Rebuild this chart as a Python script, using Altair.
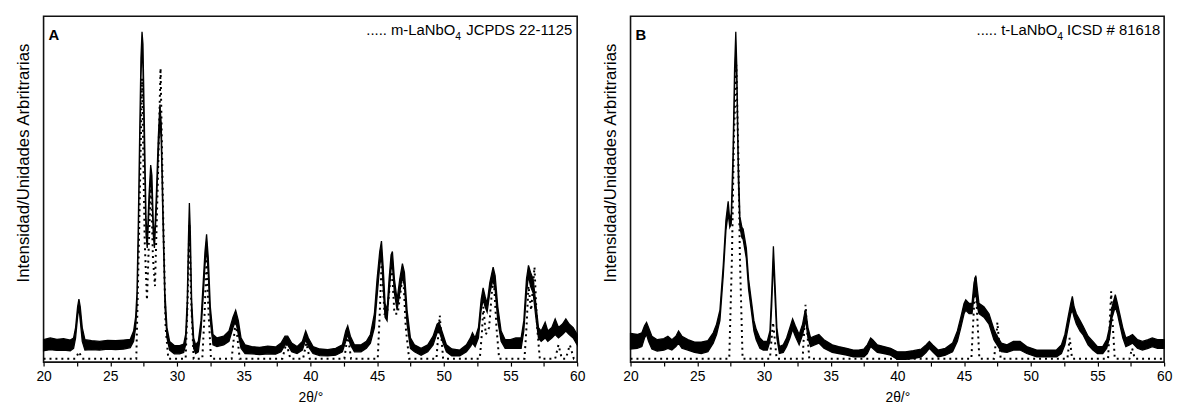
import altair as alt
import pandas as pd

FONT = "Liberation Sans"

# ---------------- Panel A (m-LaNbO4) ----------------
# experimental trace: 2theta, upper and lower edge of the noisy band (% of full scale)
A_T = [20.0, 20.5, 21.0, 21.5, 22.0, 22.25, 22.4, 22.55, 22.65, 22.75, 22.9, 23.1, 23.6, 24.2, 24.8,
       25.4, 26.0, 26.5, 26.75, 26.9, 27.0, 27.1, 27.2, 27.3, 27.38, 27.45, 27.55, 27.68, 27.77, 27.9,
       28.03, 28.12, 28.22, 28.31, 28.45, 28.6, 28.72, 28.82, 28.95, 29.1, 29.25, 29.45, 29.8, 30.2, 30.5,
       30.65, 30.77, 30.86, 30.93, 31.0, 31.1, 31.25, 31.4, 31.6, 31.8, 31.95, 32.1, 32.22, 32.35, 32.5,
       32.7, 33.0, 33.5, 33.9, 34.2, 34.4, 34.6, 34.8, 35.1, 35.6, 36.2, 36.8, 37.4, 37.8, 38.1,
       38.3, 38.6, 39.0, 39.4, 39.65, 39.85, 40.2, 40.7, 41.3, 41.9, 42.4, 42.65, 42.8, 43.0, 43.3,
       43.8, 44.2, 44.5, 44.8, 45.0, 45.2, 45.33, 45.45, 45.6, 45.75, 45.9, 46.05, 46.15, 46.3, 46.5,
       46.7, 46.9, 47.05, 47.25, 47.5, 47.8, 48.3, 48.8, 49.2, 49.5, 49.65, 49.9, 50.2, 50.6, 51.2,
       51.7, 52.0, 52.15, 52.35, 52.6, 52.8, 52.95, 53.1, 53.25, 53.45, 53.7, 53.85, 54.05, 54.3, 54.6,
       55.0, 55.4, 55.8, 56.0, 56.2, 56.35, 56.5, 56.7, 56.9, 57.1, 57.3, 57.6, 57.8, 58.1, 58.35,
       58.6, 58.9, 59.15, 59.4, 59.7, 60.0]
A_HI = [6.5, 7.0, 6.6, 6.8, 6.4, 7.0, 10, 16, 18.2, 16, 10, 6.5, 6.2, 6.0, 6.3,
        6.2, 6.4, 6.6, 9, 13, 20, 40, 65, 88, 95.5, 92, 70, 42, 35, 48,
        57, 54, 41, 35, 48, 65, 74.5, 69, 45, 20, 10, 6, 4.8, 4.8, 5.2,
        8, 18, 36, 46, 38, 18, 7, 5, 6, 12, 22, 32, 37, 30, 16,
        8, 7, 7.5, 9, 13, 15, 12, 7, 5, 4.5, 4.3, 4.6, 4.4, 5.5, 7.5,
        7.5, 5.5, 4.5, 6, 9, 7, 4.5, 3.8, 3.6, 4.0, 5, 9, 10.5, 7.5, 5,
        5, 6, 8, 14, 24, 32, 35, 28, 17, 15, 24, 31, 32, 24, 18,
        24, 28.5, 26, 15, 7, 5, 4, 5, 7.5, 11, 11.5, 8.5, 5, 3.8, 3.5,
        5, 7, 8.5, 7, 10, 18, 21.5, 19, 17, 23, 27.5, 25, 16, 9, 6.5,
        6.5, 7, 7, 12, 24, 28, 26, 24, 17, 10, 9, 11.5, 9, 10, 12.5,
        10, 11, 12.5, 11, 10, 8]
A_LO = [3.3, 3.6, 3.4, 3.5, 3.3, 4.0, 7, 13, 16, 12, 6, 3.5, 3.6, 3.5, 3.8,
        3.6, 3.8, 4.2, 6, 10, 16, 35, 60, 82, 92, 85, 62, 37, 33, 44,
        54, 49, 37, 33, 44, 60, 70, 64, 40, 16, 7, 3.5, 2.4, 2.4, 2.8,
        5, 14, 31, 42, 33, 14, 4, 2.5, 3, 9, 18, 28, 33, 25, 12,
        5, 4.5, 5, 6, 10, 12, 8, 4, 2.5, 2.4, 2.2, 2.4, 2.3, 3, 5,
        5, 3, 2.5, 3.5, 6.5, 4.5, 2.5, 1.9, 1.8, 2.0, 3, 6, 8, 5, 3,
        3, 4, 5.5, 10, 19, 28, 31, 22, 13, 12, 20, 27, 28, 20, 15,
        20, 25, 22, 11, 4, 3, 2, 3, 5, 8.5, 9, 6, 3, 1.8, 1.8,
        3, 4.5, 5.5, 4.5, 7, 15, 18, 16, 14.5, 20, 24, 21, 12, 6, 4,
        4, 4, 4, 9, 20, 25, 22, 20, 13, 7, 6, 7, 6, 7, 8,
        7, 8, 9, 8, 7, 5]
# reference pattern JCPDS 22-1125 (dotted)
A_REF_T = [20.0, 22.4, 22.65, 22.9, 26.95, 27.15, 27.38, 27.58, 27.75, 27.9, 28.05, 28.2, 28.35, 28.55,
           28.77, 28.95, 29.15, 29.35, 30.65, 30.8, 30.93, 31.06, 31.25, 31.9, 32.07, 32.22, 32.37, 32.55,
           34.1, 34.4, 34.7, 37.9, 38.2, 38.5, 39.45, 39.7, 39.95, 42.55, 42.8, 43.05, 45.05, 45.2, 45.35,
           45.55, 45.75, 45.95, 46.1, 46.3, 46.55, 46.75, 46.95, 47.15, 47.4, 49.45, 49.7, 49.95, 52.7,
           52.85, 52.97, 53.15, 53.4, 53.6, 53.75, 53.95, 54.15, 56.05, 56.2, 56.35, 56.55, 56.8, 57.0,
           57.2, 58.35, 58.6, 58.85, 59.15, 59.45, 59.75, 60.0]
A_REF_I = [1, 1, 3, 1, 1, 35, 82, 35, 18, 35, 52, 30, 22, 50,
           85, 45, 10, 1, 1, 18, 40, 18, 1, 1, 14, 30, 14, 1,
           1, 12, 1, 1, 5.5, 1, 1, 5.5, 1, 1, 8, 1, 1, 14, 30,
           14, 14, 22, 28, 14, 14, 20, 26, 10, 1, 1, 13.5, 1, 1,
           8, 16, 8, 10, 20, 24, 10, 1, 1, 10, 22, 15, 27.5, 10,
           1, 1, 5, 1, 1, 5, 1, 1]

# ---------------- Panel B (t-LaNbO4) ----------------
B_T = [20.0, 20.5, 20.85, 21.05, 21.2, 21.35, 21.6, 22.0, 22.5, 22.8, 23.1, 23.4, 23.6, 23.85, 24.3,
       24.8, 25.3, 25.8, 26.2, 26.45, 26.7, 26.95, 27.15, 27.32, 27.44, 27.55, 27.68, 27.8, 27.89, 27.97,
       28.08, 28.2, 28.35, 28.44, 28.55, 28.68, 28.85, 29.05, 29.25, 29.42, 29.7, 29.95, 30.25, 30.45, 30.58,
       30.71, 30.84, 30.97, 31.16, 31.45, 31.7, 31.95, 32.15, 32.35, 32.64, 32.9, 33.07, 33.14, 33.3, 33.5,
       33.8, 34.12, 34.5, 35.12, 35.6, 36.2, 36.7, 37.1, 37.5, 37.75, 38.0, 38.15, 38.5, 39.0, 39.5,
       40.0, 40.6, 41.2, 41.8, 42.15, 42.4, 42.65, 43.05, 43.6, 44.14, 44.5, 44.76, 45.0, 45.13, 45.38,
       45.6, 45.75, 45.88, 46.0, 46.12, 46.49, 46.87, 47.24, 47.48, 47.8, 48.22, 48.7, 49.2, 49.7, 50.45,
       51.2, 51.93, 52.3, 52.56, 52.8, 53.0, 53.12, 53.25, 53.42, 53.7, 53.91, 54.3, 54.66, 55.0, 55.4,
       55.7, 55.9, 56.1, 56.34, 56.5, 56.64, 56.9, 57.13, 57.4, 57.63, 58.0, 58.37, 58.8, 59.11, 59.5,
       59.73, 60.0]
B_HI = [8.3, 8.0, 8.5, 10.5, 11.5, 10, 7.5, 6.5, 6.8, 7.5, 6.5, 7.5, 9, 7.5, 6.5,
        5.8, 5.8, 6.2, 8.5, 11, 15, 28, 41, 46.5, 41, 43, 60, 85, 95.5, 85,
        58, 42, 39, 38.5, 36, 33, 24, 18, 12, 9.5, 7, 6, 6, 9, 20,
        33.5, 22, 10, 4.5, 5, 7, 10, 12.5, 10.5, 8, 11, 14.5, 14.8, 10, 7,
        7.5, 8, 6.5, 5, 4.5, 4, 3.5, 3.5, 3.8, 5, 7, 6.5, 5, 4.5, 4,
        3, 3, 3.3, 3.8, 5, 6, 5, 3.5, 4, 5.5, 9, 13, 17, 18, 17,
        17, 23, 25, 21, 17, 16, 14, 9.5, 7.5, 5.5, 5, 6, 6, 4.5, 3.5,
        3.5, 3.5, 5, 8, 13, 17, 19, 16, 14, 12, 10.5, 7.5, 6, 4.5, 4.5,
        6.5, 10, 16, 19.5, 17, 14.5, 10, 7, 7.5, 8, 6.5, 6, 6.5, 7, 6.5,
        6.5, 6.5]
B_LO = [3.8, 4.0, 4.5, 7, 8, 6, 3.8, 3.2, 3.5, 4, 3.5, 4.5, 5.5, 4, 3.5,
        2.8, 2.5, 3, 5.5, 8, 12, 25, 38, 43, 39, 40, 55, 80, 92, 80,
        53, 39, 36, 35.5, 33, 30, 21, 15, 9, 6.5, 4, 3.5, 3.5, 6, 16,
        30, 18, 7, 2.5, 2.8, 4.5, 7, 9.5, 7.5, 5, 8, 11, 12, 7, 4.5,
        5, 5.5, 4, 2.8, 2.5, 2, 1.5, 1.5, 1.5, 2.5, 4.5, 4, 2.8, 2.5, 2,
        0.8, 0.8, 1, 1.5, 2.8, 4, 3, 1.5, 2, 3, 6, 10, 14, 15, 14,
        14, 19, 20, 16, 14, 13, 11, 6.5, 5, 3, 2.8, 3.5, 3.5, 2.5, 1.5,
        1.5, 1.5, 2.5, 5, 10, 14, 15, 13, 11, 9, 8, 5, 3.5, 2.5, 2.5,
        4, 7, 13, 16, 14, 11.5, 7, 4.5, 5, 5.5, 4, 3.5, 4, 4.5, 4,
        4, 4]
# reference pattern ICSD # 81618 (dotted)
B_REF_T = [20.0, 27.4, 27.6, 27.75, 27.93, 28.08, 28.2, 28.4, 30.45, 30.6, 30.68, 30.78, 30.95,
           32.9, 33.03, 33.12, 33.22, 33.4, 45.55, 45.72, 45.85, 45.98, 46.15, 47.25, 47.42, 47.5,
           47.6, 47.75, 52.75, 52.92, 53.1, 55.8, 55.93, 56.03, 56.13, 56.3, 57.4, 57.6, 57.8, 60.0]
B_REF_I = [1, 1, 30, 65, 86, 60, 30, 1, 1, 8, 11.5, 8, 1,
           1, 10, 16.6, 10, 1, 1, 14, 25, 14, 1, 1, 7, 11.5,
           7, 1, 1, 7, 1, 1, 12, 20.5, 12, 1, 1, 4, 1, 1]

X_TICKS = [20, 22.5, 25, 27.5, 30, 32.5, 35, 37.5, 40, 42.5, 45, 47.5, 50, 52.5, 55, 57.5, 60]
X_TITLE = "2θ/°"
Y_TITLE = "Intensidad/Unidades Arbritrarias"

W, H = 540, 350


def x_enc():
    return alt.X("t:Q", scale=alt.Scale(domain=[20, 60], nice=False, zero=False),
                 axis=alt.Axis(values=X_TICKS, labelExpr="datum.value % 5 === 0 ? datum.label : ''",
                               title=X_TITLE, tickSize=4, tickColor="black", tickWidth=1.2,
                               domain=False, grid=False, labelOverlap=False, labelFlush=False,
                               labelFont=FONT, labelFontSize=14, labelColor="black", labelPadding=4,
                               titleFont=FONT, titleFontSize=14, titleFontWeight="normal",
                               titleColor="black", titlePadding=7))


def y_enc(field):
    return alt.Y(field, scale=alt.Scale(domain=[0, 100], nice=False),
                 axis=alt.Axis(title=Y_TITLE, labels=False, ticks=False, domain=False, grid=False,
                               minExtent=0, titleFont=FONT, titleFontSize=17, titleFontWeight="normal",
                               titleColor="black", titlePadding=11, titleY=148))


def txt(s, x, y, size=15, weight="normal", align="left"):
    return alt.Chart(pd.DataFrame({"s": [s]})).mark_text(
        align=align, baseline="alphabetic", font=FONT, fontSize=size, fontWeight=weight, color="black"
    ).encode(text="s:N", x=alt.value(x), y=alt.value(y))


def panel(t, hi, lo, rt, ri, letter, leg1, leg3, x_sub, x_end):
    exp = pd.DataFrame({"t": t, "hi": hi, "lo": lo})
    ref = pd.DataFrame({"t": rt, "v": ri})
    band = alt.Chart(exp).mark_area(color="black", stroke="black", strokeWidth=1.3, opacity=1).encode(
        x=x_enc(), y=y_enc("hi:Q"), y2="lo:Q")
    dots = alt.Chart(ref).mark_line(color="black", strokeWidth=2, strokeDash=[2, 4]).encode(
        x=x_enc(), y=y_enc("v:Q"))
    layers = [band, dots,
              txt(letter, 5, 24, size=15, weight="bold"),
              txt(leg1, x_sub, 19, align="right"),
              txt("4", x_sub, 23.5, size=10.5),
              txt(leg3, x_end, 19, align="right")]
    return alt.layer(*layers).properties(width=W, height=H)


pa = panel(A_T, A_HI, A_LO, A_REF_T, A_REF_I, "A", "..... m-LaNbO", "JCPDS 22-1125", 416.6, 535)
pb = panel(B_T, B_HI, B_LO, B_REF_T, B_REF_I, "B", "..... t-LaNbO", "ICSD # 81618", 431.8, 536)

chart = alt.hconcat(pa, pb, spacing=15).properties(
    padding={"left": 6, "top": 5, "right": 2, "bottom": 0}
).configure_view(stroke="#111111", strokeWidth=1.6)

chart.save("out.html", embed_options={"renderer": "svg", "actions": False})
